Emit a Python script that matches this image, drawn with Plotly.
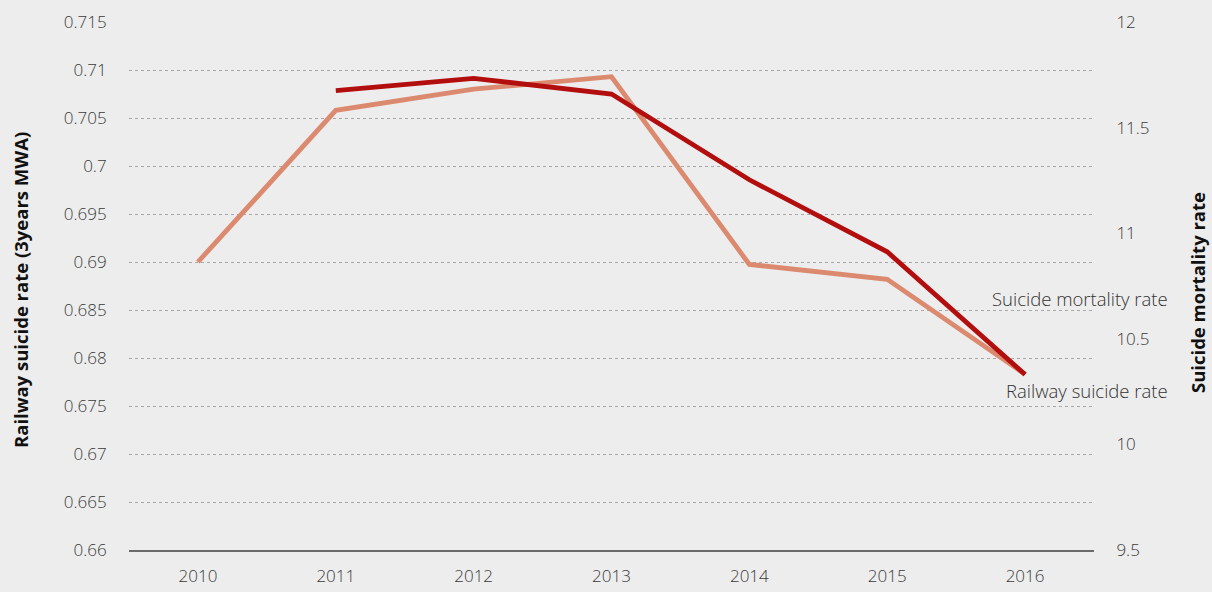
import plotly.graph_objects as go

years = ["2010", "2011", "2012", "2013", "2014", "2015", "2016"]
railway_rate = [0.6900, 0.7058, 0.7080, 0.7093, 0.68975, 0.6882, 0.6783]
mortality_years = ["2011", "2012", "2013", "2014", "2015", "2016"]
mortality_rate = [11.675, 11.733, 11.659, 11.253, 10.912, 10.331]
left_ticks = [0.66, 0.665, 0.67, 0.675, 0.68, 0.685, 0.69, 0.695, 0.70, 0.705, 0.71, 0.715]
left_tick_text = ["0.66", "0.665", "0.67", "0.675", "0.68", "0.685", "0.69", "0.695", "0.7", "0.705", "0.71", "0.715"]
right_ticks = [9.5, 10, 10.5, 11, 11.5, 12]
right_tick_text = ["9.5", "10", "10.5", "11", "11.5", "12"]

FONT = "Open Sans"
TICKFONT = dict(family=FONT, size=17, color="#3A3A3A", weight=300)
LABELFONT = dict(family=FONT, size=18.5, color="#333", weight=300)
TITLEFONT = dict(family=FONT, size=18.5, color="#111", weight="bold")

fig = go.Figure()
fig.add_trace(go.Scatter(x=years, y=railway_rate, mode="lines",
                         line=dict(color="#DB8A6F", width=4.8),
                         name="Railway suicide rate", yaxis="y"))
fig.add_trace(go.Scatter(x=mortality_years, y=mortality_rate, mode="lines",
                         line=dict(color="#B30E0E", width=4.8),
                         name="Suicide mortality rate", yaxis="y2"))

fig.add_annotation(x=1.0, xref="paper", xanchor="right", y=10.69, yref="y2",
                   text="Suicide mortality rate", showarrow=False,
                   font=LABELFONT, xshift=76)
fig.add_annotation(x=1.0, xref="paper", xanchor="right", y=10.255, yref="y2",
                   text="Railway suicide rate", showarrow=False,
                   font=LABELFONT, xshift=76)

fig.add_annotation(x=0, xref="paper", y=0.5, yref="paper", yshift=-4,
                   text="Railway suicide rate (3years MWA)", textangle=-90,
                   showarrow=False, font=TITLEFONT, xanchor="center", xshift=-109)
fig.add_annotation(x=1, xref="paper", y=0.5, yref="paper", yshift=-7,
                   text="Suicide mortality rate", textangle=-90,
                   showarrow=False, font=TITLEFONT, xanchor="center", xshift=103)

fig.update_layout(
    width=1212, height=592,
    paper_bgcolor="#EDEDED", plot_bgcolor="#EDEDED",
    margin=dict(l=129, r=118, t=22, b=42, autoexpand=False),
    showlegend=False,
    font=dict(family=FONT, size=17, color="#444"),
    xaxis=dict(type="category", categoryorder="array", categoryarray=years,
               showgrid=False, showline=True, linecolor="#6B6B6B", linewidth=2,
               ticks="outside", ticklen=10, tickcolor="rgba(0,0,0,0)",
               tickfont=TICKFONT, range=[-0.5, 6.5], automargin=False),
    yaxis=dict(range=[0.66, 0.715], tickvals=left_ticks, ticktext=left_tick_text,
               showgrid=True, gridcolor="#A8A8A8", griddash="dot", gridwidth=1,
               zeroline=False, showline=False, automargin=False,
               ticks="outside", ticklen=18, tickcolor="rgba(0,0,0,0)",
               tickfont=TICKFONT),
    yaxis2=dict(range=[9.5, 12], tickvals=right_ticks, ticktext=right_tick_text,
                overlaying="y", side="right", showgrid=False, zeroline=False,
                automargin=False,
                ticks="outside", ticklen=18, tickcolor="rgba(0,0,0,0)",
                tickfont=TICKFONT),
)

fig.write_html("out.html", config={"displayModeBar": False},
               post_script="document.body.style.margin='0';document.body.style.background='#EDEDED';")
